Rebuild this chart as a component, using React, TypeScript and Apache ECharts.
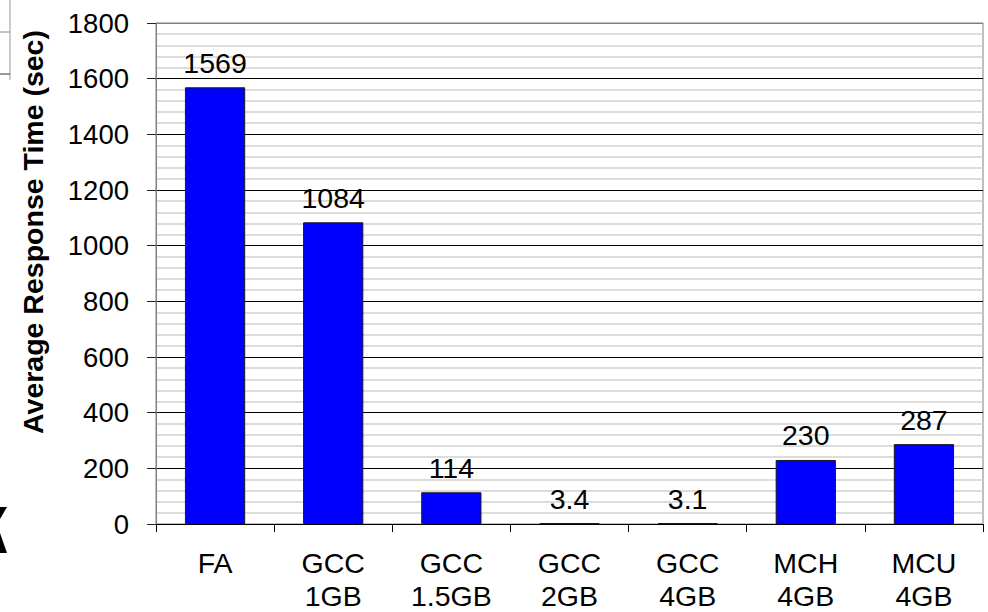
import React, { useEffect, useRef } from "react";
import * as echarts from "echarts";

const categories = ["FA\n", "GCC\n1GB", "GCC\n1.5GB", "GCC\n2GB", "GCC\n4GB", "MCH\n4GB", "MCU\n4GB"];
const values = [1569, 1084, 114, 3.4, 3.1, 230, 287];
const yTicks = { min: 0, max: 1800, interval: 200 };
const yName = "Average Response Time (sec)";

const FONT = "'Liberation Sans', Arial, sans-serif";

export default function App() {
  const ref = useRef<HTMLDivElement>(null);
  useEffect(() => {
    if (!ref.current) return;
    const chart = echarts.init(ref.current, null, { renderer: "svg" });
    const splitColors = Array.from({ length: 10 }, (_, i) => (i === 9 ? "#808080" : "#000000"));
    chart.setOption({
      animation: false,
      backgroundColor: "#ffffff",
      textStyle: { fontFamily: FONT },
      grid: {
        left: 156,
        right: 5,
        top: 23,
        bottom: 88,
        show: true,
        borderColor: "#808080",
        borderWidth: 1,
        backgroundColor: "transparent",
      },
      xAxis: {
        type: "category",
        data: categories,
        axisLine: { lineStyle: { color: "#000", width: 1 } },
        axisTick: { show: true, length: 8, lineStyle: { color: "#000" } },
        axisLabel: {
          color: "#000",
          fontSize: 28.5,
          fontFamily: FONT,
          lineHeight: 33,
          margin: 22,
          interval: 0,
        },
        splitLine: { show: false },
      },
      yAxis: {
        type: "value",
        min: yTicks.min,
        max: yTicks.max,
        interval: yTicks.interval,
        axisLine: { show: true, lineStyle: { color: "#808080", width: 1 } },
        axisTick: { show: true, length: 9, lineStyle: { color: "#222" } },
        axisLabel: {
          color: "#000",
          fontSize: 27.5,
          fontFamily: FONT,
          margin: 27,
          formatter: (v: number) => String(v),
        },
        splitLine: { show: true, lineStyle: { color: splitColors, width: 1 } },
        minorTick: { show: false, splitNumber: 5 },
        minorSplitLine: { show: true, lineStyle: { color: "#d0d0d0", width: 1.5 } },
      },
      series: [
        {
          type: "bar",
          data: values,
          barWidth: "51%",
          barMinHeight: 1,
          itemStyle: { color: "#0000ff", borderColor: "#1a1a1a", borderWidth: 1 },
          label: {
            show: true,
            position: "top",
            distance: 10,
            color: "#000",
            fontSize: 28.5,
            fontFamily: FONT,
          },
          z: 3,
        },
      ],
      graphic: [
        {
          type: "text",
          x: 33,
          y: 232,
          rotation: Math.PI / 2,
          style: {
            text: yName,
            fontSize: 28.5,
            fontWeight: "bold",
            fontFamily: FONT,
            fill: "#000",
            align: "center",
            verticalAlign: "middle",
          },
        },
        { type: "line", shape: { x1: 10, y1: 0, x2: 10, y2: 80 }, style: { stroke: "#999", lineWidth: 1 } },
        { type: "line", shape: { x1: 0, y1: 32, x2: 10, y2: 32 }, style: { stroke: "#888", lineWidth: 1 } },
        { type: "line", shape: { x1: 0, y1: 74, x2: 10, y2: 74 }, style: { stroke: "#333", lineWidth: 1 } },
        { type: "polygon", shape: { points: [[0, 507], [7, 507], [0, 519]] }, style: { fill: "#000" } },
        { type: "polygon", shape: { points: [[0, 533], [7, 553], [0, 553]] }, style: { fill: "#000" } },
      ],
    });
    return () => chart.dispose();
  }, []);
  return <div ref={ref} style={{ width: 988, height: 612, position: "absolute", left: 0, top: 0 }} />;
}
